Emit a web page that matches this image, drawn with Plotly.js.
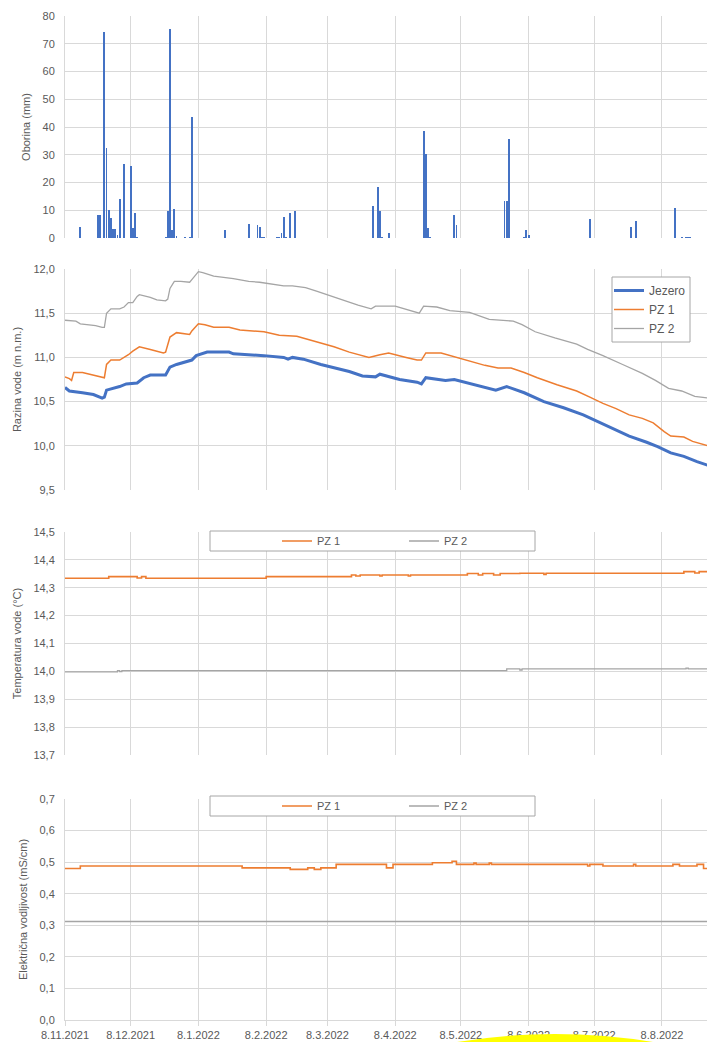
<!DOCTYPE html>
<html><head><meta charset="utf-8">
<script src="https://cdn.plot.ly/plotly-3.0.1.min.js"></script>
<style>html,body{margin:0;padding:0;background:#fff;overflow:hidden}#chart{width:707px;height:1042px}</style>
</head><body><div id="chart"></div>
<script>
// ---------- data ----------
const tickDates = ['2021-11-08','2021-12-08','2022-01-08','2022-02-08','2022-03-08','2022-04-08','2022-05-08','2022-06-08','2022-07-08','2022-08-08'];
const tickLabels = ['8.11.2021','8.12.2021','8.1.2022','8.2.2022','8.3.2022','8.4.2022','8.5.2022','8.6.2022','8.7.2022','8.8.2022'];

const rainDates = ['2021-11-15','2021-11-23','2021-11-24','2021-11-26','2021-11-27','2021-11-28','2021-11-29','2021-11-30','2021-12-01','2021-12-02','2021-12-03','2021-12-05','2021-12-08','2021-12-09','2021-12-10','2021-12-11','2021-12-24','2021-12-25','2021-12-26','2021-12-27','2021-12-28','2021-12-29','2022-01-02','2022-01-04','2022-01-05','2022-01-20','2022-01-31','2022-02-04','2022-02-05','2022-02-06','2022-02-07','2022-02-13','2022-02-14','2022-02-15','2022-02-16','2022-02-17','2022-02-19','2022-02-21','2022-03-29','2022-03-31','2022-04-01','2022-04-02','2022-04-05','2022-04-21','2022-04-22','2022-04-23','2022-04-24','2022-05-05','2022-05-06','2022-05-28','2022-05-29','2022-05-30','2022-06-06','2022-06-07','2022-06-08','2022-07-06','2022-07-25','2022-07-27','2022-08-14','2022-08-17','2022-08-19','2022-08-20','2022-08-21'];
const rainMm = [4.0,8.4,8.4,74.1,32.5,10.1,7.3,3.4,3.4,1.2,13.9,26.6,26.0,3.5,9.0,0.5,0.3,9.6,75.3,3.0,10.5,0.7,0.3,0.5,43.6,3.0,5.1,4.6,4.0,0.3,0.3,0.3,0.5,1.9,7.4,0.3,9.0,9.6,11.6,18.3,9.6,0.3,1.9,38.6,30.4,3.5,0.3,8.4,4.6,13.4,13.4,35.8,0.5,3.0,1.0,6.7,4.1,6.2,10.7,0.3,0.3,0.3,0.3];

const jezeroDates = ['2021-11-08','2021-11-10','2021-11-16','2021-11-21','2021-11-25','2021-11-26','2021-11-27','2021-11-30','2021-12-03','2021-12-06','2021-12-11','2021-12-14','2021-12-17','2021-12-24','2021-12-26','2021-12-29','2022-01-03','2022-01-05','2022-01-07','2022-01-12','2022-01-15','2022-01-22','2022-01-24','2022-02-02','2022-02-07','2022-02-16','2022-02-18','2022-02-20','2022-02-25','2022-03-05','2022-03-11','2022-03-18','2022-03-24','2022-03-30','2022-04-01','2022-04-10','2022-04-18','2022-04-20','2022-04-22','2022-05-01','2022-05-05','2022-05-14','2022-05-24','2022-05-29','2022-06-06','2022-06-15','2022-06-24','2022-07-03','2022-07-09','2022-07-17','2022-07-24','2022-08-01','2022-08-06','2022-08-12','2022-08-18','2022-08-24','2022-08-29'];
const jezeroLevel = [10.66,10.62,10.60,10.58,10.54,10.55,10.63,10.65,10.67,10.70,10.71,10.77,10.80,10.80,10.89,10.92,10.95,10.97,11.02,11.06,11.06,11.06,11.04,11.03,11.02,11.00,10.98,11.00,10.98,10.92,10.88,10.84,10.79,10.78,10.81,10.75,10.72,10.70,10.77,10.74,10.75,10.69,10.63,10.67,10.60,10.50,10.43,10.35,10.28,10.19,10.11,10.04,9.99,9.92,9.88,9.82,9.78];

const pz1Dates = ['2021-11-08','2021-11-10','2021-11-11','2021-11-12','2021-11-16','2021-11-21','2021-11-25','2021-11-26','2021-11-27','2021-11-29','2021-12-03','2021-12-07','2021-12-09','2021-12-12','2021-12-17','2021-12-23','2021-12-24','2021-12-26','2021-12-29','2022-01-04','2022-01-05','2022-01-08','2022-01-11','2022-01-15','2022-01-22','2022-01-27','2022-02-07','2022-02-14','2022-02-22','2022-02-28','2022-03-05','2022-03-11','2022-03-18','2022-03-27','2022-04-01','2022-04-05','2022-04-13','2022-04-18','2022-04-20','2022-04-22','2022-04-29','2022-05-08','2022-05-19','2022-05-25','2022-05-31','2022-06-06','2022-06-12','2022-06-21','2022-06-30','2022-07-06','2022-07-12','2022-07-18','2022-07-24','2022-07-30','2022-08-04','2022-08-09','2022-08-12','2022-08-18','2022-08-22','2022-08-29'];
const pz1Level = [10.78,10.76,10.74,10.83,10.83,10.80,10.78,10.77,10.92,10.97,10.97,11.03,11.07,11.12,11.09,11.05,11.06,11.23,11.28,11.26,11.30,11.38,11.37,11.34,11.34,11.31,11.29,11.25,11.24,11.20,11.16,11.12,11.06,11.00,11.03,11.05,11.00,10.97,10.97,11.05,11.05,10.99,10.91,10.88,10.88,10.83,10.77,10.69,10.62,10.55,10.48,10.42,10.35,10.31,10.26,10.16,10.11,10.10,10.05,10.00];

const pz2Dates = ['2021-11-08','2021-11-13','2021-11-15','2021-11-22','2021-11-25','2021-11-26','2021-11-27','2021-11-29','2021-12-03','2021-12-05','2021-12-07','2021-12-09','2021-12-11','2021-12-12','2021-12-17','2021-12-20','2021-12-24','2021-12-25','2021-12-26','2021-12-28','2021-12-31','2022-01-04','2022-01-05','2022-01-08','2022-01-10','2022-01-15','2022-01-24','2022-01-31','2022-02-05','2022-02-08','2022-02-16','2022-02-20','2022-02-26','2022-03-03','2022-03-11','2022-03-17','2022-03-22','2022-03-28','2022-03-30','2022-04-08','2022-04-17','2022-04-19','2022-04-21','2022-04-27','2022-05-03','2022-05-12','2022-05-21','2022-06-01','2022-06-05','2022-06-11','2022-06-20','2022-06-30','2022-07-05','2022-07-12','2022-07-21','2022-07-30','2022-08-05','2022-08-11','2022-08-17','2022-08-23','2022-08-29'];
const pz2Level = [11.42,11.41,11.38,11.36,11.34,11.34,11.50,11.55,11.55,11.57,11.62,11.62,11.69,11.71,11.68,11.65,11.64,11.66,11.78,11.86,11.86,11.85,11.88,11.97,11.96,11.92,11.89,11.86,11.85,11.84,11.81,11.81,11.79,11.75,11.68,11.63,11.59,11.55,11.58,11.58,11.51,11.50,11.58,11.57,11.53,11.51,11.43,11.41,11.37,11.29,11.22,11.15,11.09,11.02,10.92,10.82,10.74,10.65,10.62,10.56,10.54];

const tempPz1Dates = ['2021-11-08','2021-11-28','2021-12-11','2021-12-13','2021-12-15','2022-02-08','2022-03-19','2022-03-21','2022-03-23','2022-04-01','2022-04-02','2022-04-14','2022-04-15','2022-05-11','2022-05-16','2022-05-18','2022-05-23','2022-05-26','2022-06-04','2022-06-15','2022-06-16','2022-08-18','2022-08-23','2022-08-25','2022-08-29'];
const tempPz1 = [14.334,14.340,14.335,14.340,14.334,14.340,14.346,14.342,14.346,14.342,14.346,14.342,14.346,14.351,14.346,14.351,14.346,14.351,14.352,14.348,14.352,14.358,14.353,14.358,14.358];
const tempPz2Dates = ['2021-11-08','2021-12-02','2021-12-03','2021-12-04','2022-05-29','2022-06-04','2022-06-05','2022-08-19','2022-08-20','2022-08-29'];
const tempPz2 = [13.998,14.003,13.999,14.003,14.009,14.005,14.009,14.012,14.009,14.010];

const condPz1Dates = ['2021-11-08','2021-11-15','2022-01-28','2022-02-19','2022-02-27','2022-03-02','2022-03-05','2022-03-12','2022-04-04','2022-04-07','2022-04-25','2022-05-04','2022-05-06','2022-05-14','2022-05-15','2022-05-21','2022-05-22','2022-07-05','2022-07-06','2022-07-12','2022-07-26','2022-07-27','2022-08-13','2022-08-16','2022-08-24','2022-08-27','2022-08-29'];
const condPz1 = [0.480,0.488,0.482,0.477,0.482,0.477,0.482,0.493,0.482,0.493,0.498,0.503,0.493,0.497,0.493,0.497,0.493,0.488,0.493,0.488,0.493,0.488,0.493,0.488,0.493,0.480,0.480];
const condPz2Dates = ['2021-11-08','2022-08-29'];
const condPz2 = [0.312,0.312];

// ---------- layout helpers ----------
const W = 707, H = 1042, ML = 65, MR = 0, MT = 16, MB = 22;
const plotW = W - ML - MR, plotH = H - MT - MB;
const px = p => (p - ML) / plotW;
const py = p => (H - MB - p) / plotH;

const grey = '#595959', gridCol = '#d9d9d9';
const fam = 'Liberation Sans, Arial, sans-serif';
const tickFont = {family: fam, size: 11, color: grey};
const blue = '#4472C4', orange = '#ED7D31', lgrey = '#A5A5A5';

function yax(domain, range, dtick, title, fmt) {
  return {
    domain: domain, range: range, dtick: dtick, tick0: range[0], tickformat: fmt,
    showgrid: true, gridcolor: gridCol, gridwidth: 1, zeroline: false,
    showline: true, linecolor: gridCol, linewidth: 1,
    ticks: 'outside', ticklen: 7, tickcolor: 'rgba(0,0,0,0)',
    tickfont: tickFont, anchor: 'x', fixedrange: true,
    title: {text: title, font: {family: fam, size: 11, color: grey}, standoff: 9}
  };
}

const traces = [
  {type: 'bar', x: rainDates, y: rainMm, xaxis: 'x', yaxis: 'y', width: 0.85 * 86400000,
   marker: {color: blue, line: {width: 0}}, showlegend: false, hoverinfo: 'x+y'},
  {type: 'scatter', mode: 'lines', name: 'Jezero', x: jezeroDates, y: jezeroLevel, xaxis: 'x', yaxis: 'y2',
   line: {color: blue, width: 3}, legend: 'legend'},
  {type: 'scatter', mode: 'lines', name: 'PZ 1', x: pz1Dates, y: pz1Level, xaxis: 'x', yaxis: 'y2',
   line: {color: orange, width: 1.5}, legend: 'legend'},
  {type: 'scatter', mode: 'lines', name: 'PZ 2', x: pz2Dates, y: pz2Level, xaxis: 'x', yaxis: 'y2',
   line: {color: lgrey, width: 1.3}, legend: 'legend'},
  {type: 'scatter', mode: 'lines', name: 'PZ 1', x: tempPz1Dates, y: tempPz1, xaxis: 'x', yaxis: 'y3',
   line: {color: orange, width: 1.6, shape: 'hv'}, legend: 'legend2'},
  {type: 'scatter', mode: 'lines', name: 'PZ 2', x: tempPz2Dates, y: tempPz2, xaxis: 'x', yaxis: 'y3',
   line: {color: lgrey, width: 1.3, shape: 'hv'}, legend: 'legend2'},
  {type: 'scatter', mode: 'lines', name: 'PZ 1', x: condPz1Dates, y: condPz1, xaxis: 'x', yaxis: 'y4',
   line: {color: orange, width: 1.6, shape: 'hv'}, legend: 'legend3'},
  {type: 'scatter', mode: 'lines', name: 'PZ 2', x: condPz2Dates, y: condPz2, xaxis: 'x', yaxis: 'y4',
   line: {color: lgrey, width: 1.3}, legend: 'legend3'}
];

const legFont = {family: fam, size: 11, color: grey};
const boxLine = {color: '#a6a6a6', width: 1};
const layout = {
  width: W, height: H,
  margin: {l: ML, r: MR, t: MT, b: MB, pad: 0},
  paper_bgcolor: '#fff', plot_bgcolor: '#fff',
  separators: ',.',
  font: {family: fam, color: grey, size: 11},
  bargap: 0,
  xaxis: {
    type: 'date', range: ['2021-11-08', '2022-08-28 14:00'], anchor: 'y4',
    tickmode: 'array', tickvals: tickDates, ticktext: tickLabels,
    showgrid: true, gridcolor: gridCol, gridwidth: 1, zeroline: false,
    showline: true, linecolor: gridCol, linewidth: 1,
    ticks: 'outside', ticklen: 5, tickcolor: gridCol, tickwidth: 1,
    tickfont: tickFont, fixedrange: true
  },
  yaxis: yax([py(238), py(16)], [0, 80], 10, 'Oborina (mm)', 'd'),
  yaxis2: yax([py(490), py(269)], [9.5, 12], 0.5, 'Razina vode (m n.m.)', '.1f'),
  yaxis3: yax([py(755), py(532)], [13.7, 14.5], 0.1, 'Temperatura vode (°C)', '.1f'),
  yaxis4: yax([py(1020), py(799)], [0, 0.7], 0.1, 'Električna vodljivost (mS/cm)', '.1f'),
  legend: {x: px(609), y: py(276), xanchor: 'left', yanchor: 'top', orientation: 'v',
    bgcolor: 'rgba(0,0,0,0)', borderwidth: 0, font: {family: fam, size: 12, color: grey}, tracegroupgap: 0},
  legend2: {x: px(277), y: py(541), xanchor: 'left', yanchor: 'middle', orientation: 'h',
    bgcolor: 'rgba(0,0,0,0)', borderwidth: 0, font: legFont, entrywidth: 82},
  legend3: {x: px(277), y: py(806), xanchor: 'left', yanchor: 'middle', orientation: 'h',
    bgcolor: 'rgba(0,0,0,0)', borderwidth: 0, font: legFont, entrywidth: 82},
  shapes: [
    {type: 'rect', xref: 'paper', yref: 'paper', x0: px(612), x1: px(690), y0: py(342), y1: py(277),
     line: boxLine, fillcolor: '#fff', layer: 'above'},
    {type: 'rect', xref: 'paper', yref: 'paper', x0: px(210), x1: px(535), y0: py(551), y1: py(531),
     line: boxLine, fillcolor: '#fff', layer: 'above'},
    {type: 'rect', xref: 'paper', yref: 'paper', x0: px(210), x1: px(535), y0: py(816), y1: py(796),
     line: boxLine, fillcolor: '#fff', layer: 'above'},
    {type: 'path', xref: 'paper', yref: 'paper',
     path: 'M' + px(435) + ',' + py(1046) + ' Q' + px(555) + ',' + py(1022) + ' ' + px(675) + ',' + py(1046) + ' Z',
     fillcolor: '#ffff00', line: {width: 0}, layer: 'above'}
  ]
};

Plotly.newPlot('chart', traces, layout, {staticPlot: true, displayModeBar: false});
</script>
</body></html>
